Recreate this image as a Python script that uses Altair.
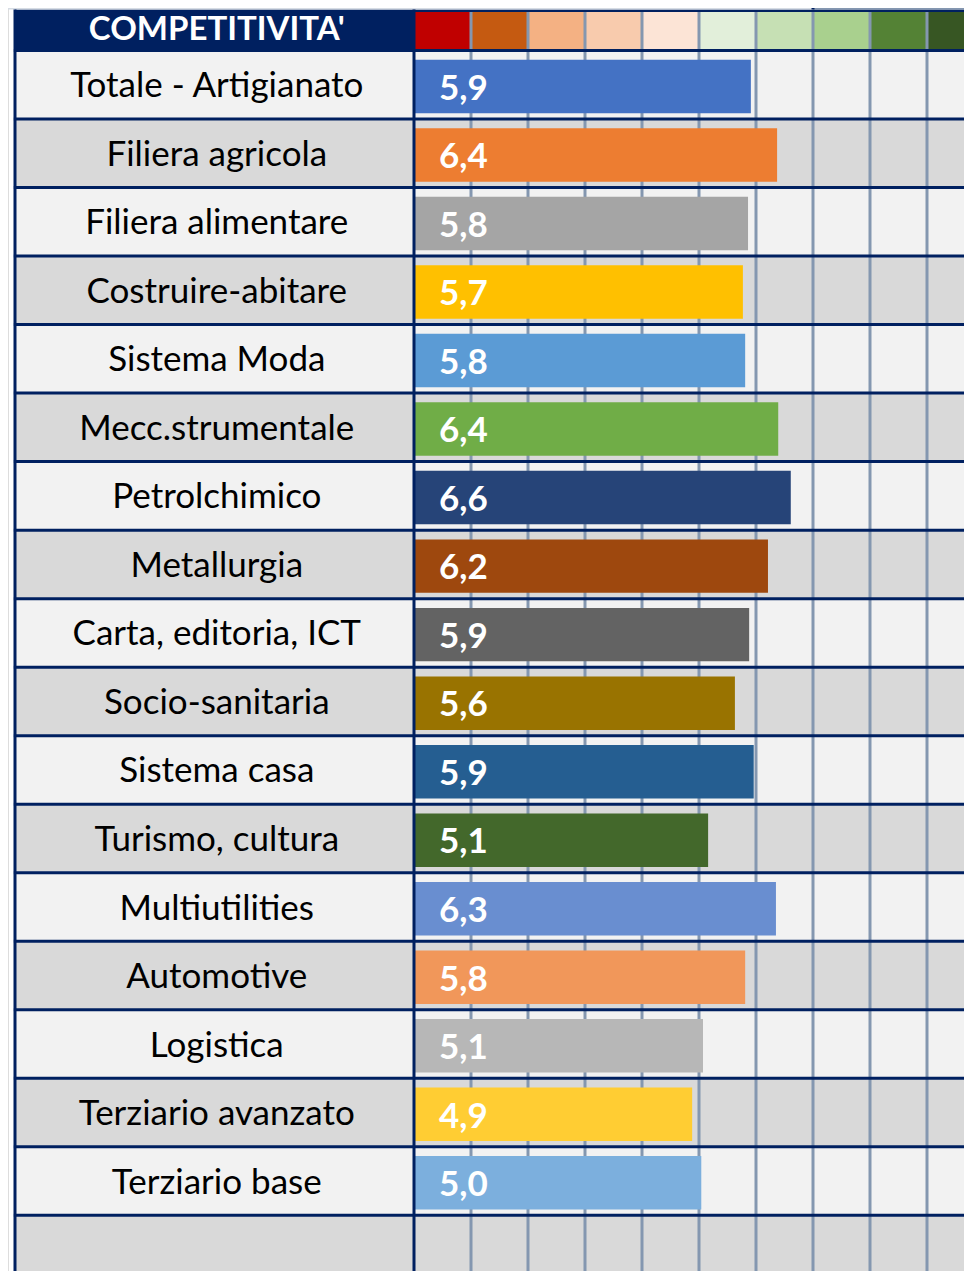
import altair as alt
import pandas as pd

# ---------------- data ----------------
categories = [
    "Totale - Artigianato", "Filiera agricola", "Filiera alimentare",
    "Costruire-abitare", "Sistema Moda", "Mecc.strumentale", "Petrolchimico",
    "Metallurgia", "Carta, editoria, ICT", "Socio-sanitaria", "Sistema casa",
    "Turismo, cultura", "Multiutilities", "Automotive", "Logistica",
    "Terziario avanzato", "Terziario base",
]
values = [5.91, 6.37, 5.86, 5.77, 5.81, 6.39, 6.61, 6.21, 5.88, 5.63,
          5.96, 5.16, 6.35, 5.81, 5.07, 4.88, 5.04]
value_labels = ["5,9", "6,4", "5,8", "5,7", "5,8", "6,4", "6,6", "6,2", "5,9",
                "5,6", "5,9", "5,1", "6,3", "5,8", "5,1", "4,9", "5,0"]
bar_colors = ["#4472c4", "#ed7d31", "#a5a5a5", "#ffc000", "#5b9bd5", "#70ad47",
              "#264478", "#9e480e", "#636363", "#997300", "#255e91", "#43682b",
              "#698ed0", "#f1975a", "#b7b7b7", "#ffcd33", "#7cafdd"]
scale_steps = list(range(10))
scale_colors = ["#c00000", "#c55a11", "#f4b183", "#f8cbad", "#fce4d6",
                "#e2efda", "#c6e0b4", "#a9d08e", "#548235", "#375623"]
header_title = "COMPETITIVITA'"

# ---------------- layout ----------------
W, H = 956, 1263
PX_UNIT = 57.0          # pixels per value unit
X0_PX = 406.0           # plot-x of value 0
ROW_PX = 68.52          # row height
Y0_PX = 42.5            # plot-y of first row top
xmin, xmax = -X0_PX / PX_UNIT, (W - X0_PX) / PX_UNIT
ymin, ymax = -Y0_PX / ROW_PX, (H - Y0_PX) / ROW_PX
TABLE_LEFT = -7.0
LABEL_CENTER = -3.46

xs = alt.Scale(domain=[xmin, xmax], range=[0, W], nice=False, zero=False)
ys = alt.Scale(domain=[ymin, ymax], range=[0, H], nice=False, zero=False)

NAVY = "#002060"
GRID = "#8497b0"

n = len(categories)
nrows = n + 1  # one empty row at the bottom

rows_df = pd.DataFrame({
    "x0": [TABLE_LEFT] * nrows,
    "x1": [xmax] * nrows,
    "y0": list(range(nrows)),
    "y1": [i + 1 for i in range(nrows)],
    "fill": ["#f2f2f2" if i % 2 == 0 else "#d9d9d9" for i in range(nrows)],
})

bars_df = pd.DataFrame({
    "cat": categories,
    "value": values,
    "label": value_labels,
    "color": bar_colors,
    "row": list(range(n)),
})
bars_df["zero"] = 0.0
bars_df["yb0"] = bars_df["row"] + 0.135
bars_df["yb1"] = bars_df["row"] + 0.915
bars_df["ymid"] = bars_df["row"] + 0.5
bars_df["lx"] = LABEL_CENTER

# header pieces
hdr_top = -41.0 / ROW_PX
header_df = pd.DataFrame({
    "x0": [TABLE_LEFT, xmin, 7.0],
    "x1": [xmax, 7.0, xmax],
    "y0": [hdr_top, ymin, ymin],
    "y1": [0.0, hdr_top, hdr_top],
    "fill": [NAVY, "#d6dce4", GRID],
})

cells_df = pd.DataFrame({
    "x0": scale_steps,
    "x1": [s + 1 for s in scale_steps],
    "fill": scale_colors,
})
cells_df["y0"] = -38.5 / ROW_PX
cells_df["y1"] = -1.5 / ROW_PX

grid_df = pd.DataFrame({"x": list(range(1, 10))})
grid_df["y0"] = -38.5 / ROW_PX
grid_df["y1"] = ymax

hlines_df = pd.DataFrame({"y": list(range(0, nrows + 1))})
hlines_df["x0"] = TABLE_LEFT - 0.02
hlines_df["x1"] = xmax

vlines_df = pd.DataFrame({"x": [TABLE_LEFT, 0.0, 7.0],
                          "y0": [hdr_top, hdr_top, ymin],
                          "y1": [ymax, ymax, hdr_top]})


def rect_layer(df):
    return alt.Chart(df).mark_rect(clip=True).encode(
        x=alt.X("x0:Q", scale=xs, axis=None),
        x2="x1:Q",
        y=alt.Y("y0:Q", scale=ys, axis=None),
        y2="y1:Q",
        color=alt.Color("fill:N", scale=None),
    )


rows_layer = rect_layer(rows_df)
header_layer = rect_layer(header_df)
cells_layer = rect_layer(cells_df)

grid_layer = alt.Chart(grid_df).mark_rule(color=GRID, strokeWidth=3, clip=True).encode(
    x=alt.X("x:Q", scale=xs, axis=None),
    y=alt.Y("y0:Q", scale=ys, axis=None),
    y2="y1:Q",
)

bars_layer = alt.Chart(bars_df).mark_rect(clip=True).encode(
    x=alt.X("zero:Q", scale=xs, axis=None),
    x2="value:Q",
    y=alt.Y("yb0:Q", scale=ys, axis=None),
    y2="yb1:Q",
    color=alt.Color("color:N", scale=None),
)

hlines_layer = alt.Chart(hlines_df).mark_rule(color=NAVY, strokeWidth=3, clip=True).encode(
    y=alt.Y("y:Q", scale=ys, axis=None),
    x=alt.X("x0:Q", scale=xs, axis=None),
    x2="x1:Q",
)

vlines_layer = alt.Chart(vlines_df).mark_rule(color=NAVY, strokeWidth=3, clip=True).encode(
    x=alt.X("x:Q", scale=xs, axis=None),
    y=alt.Y("y0:Q", scale=ys, axis=None),
    y2="y1:Q",
)

cat_text = alt.Chart(bars_df).mark_text(
    font="Lato", fontSize=35, color="#000000", align="center",
    baseline="alphabetic", dy=12.5,
).encode(
    x=alt.X("lx:Q", scale=xs, axis=None),
    y=alt.Y("ymid:Q", scale=ys, axis=None),
    text="cat:N",
)

val_text = alt.Chart(bars_df).mark_text(
    font="Lato", fontSize=35, fontWeight="bold", color="#ffffff", align="left",
    baseline="alphabetic", dx=25, dy=15,
).encode(
    x=alt.X("zero:Q", scale=xs, axis=None),
    y=alt.Y("ymid:Q", scale=ys, axis=None),
    text="label:N",
)

title_df = pd.DataFrame({"t": [header_title], "x": [LABEL_CENTER], "y": [hdr_top / 2]})
title_text = alt.Chart(title_df).mark_text(
    font="Lato", fontSize=33, fontWeight="bold", color="#ffffff", align="center",
    baseline="middle", dy=0,
).encode(
    x=alt.X("x:Q", scale=xs, axis=None),
    y=alt.Y("y:Q", scale=ys, axis=None),
    text="t:N",
)

chart = alt.layer(
    rows_layer, header_layer, cells_layer, grid_layer, bars_layer,
    hlines_layer, vlines_layer, cat_text, val_text, title_text,
).properties(
    width=W, height=H, padding=0, autosize="none",
).configure_view(strokeWidth=0).configure(background="#ffffff")

chart.save("out.html", embed_options={"renderer": "svg", "actions": False})
